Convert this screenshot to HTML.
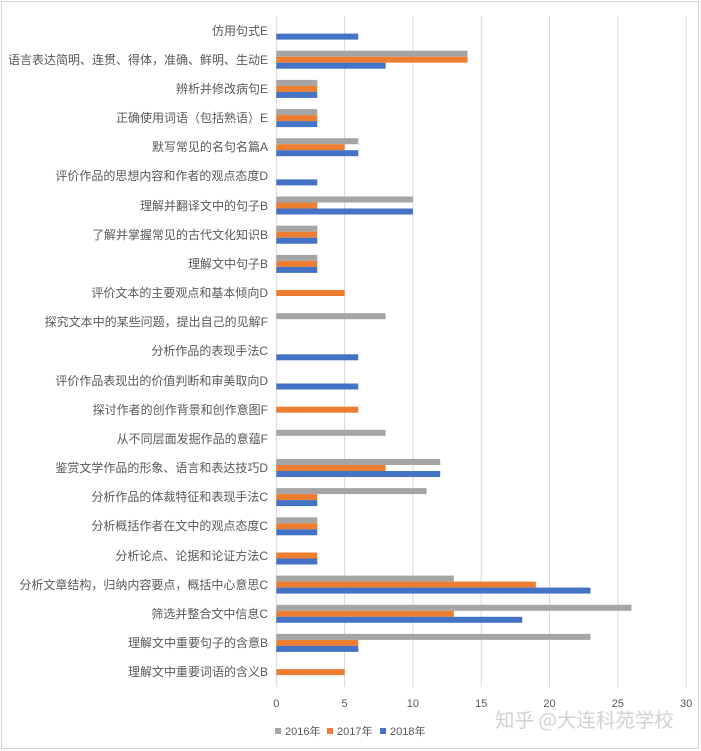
<!DOCTYPE html>
<html>
<head>
<meta charset="utf-8">
<style>
html,body{margin:0;padding:0;background:#fff;}
svg{display:block;}
text{font-family:"Liberation Sans","Noto Sans CJK SC",sans-serif;}
.lbl{font-family:"Liberation Serif","Noto Sans CJK SC","WenQuanYi Zen Hei",sans-serif;font-size:12px;fill:#595959;}
.tick{font-size:11px;fill:#595959;}
.leg{font-family:"Liberation Sans","Noto Sans CJK SC",sans-serif;font-size:11px;fill:#595959;}
</style>
</head>
<body>
<svg width="701" height="751" viewBox="0 0 701 751" xmlns="http://www.w3.org/2000/svg">
<rect x="0" y="0" width="701" height="751" fill="#fff"/>
<rect x="1.5" y="1.5" width="697" height="747" fill="none" stroke="#d4d4d4" stroke-width="1"/>
<g stroke="#d9d9d9" stroke-width="1">
<line x1="276.3" y1="16" x2="276.3" y2="687"/>
<line x1="344.6" y1="16" x2="344.6" y2="687"/>
<line x1="412.9" y1="16" x2="412.9" y2="687"/>
<line x1="481.2" y1="16" x2="481.2" y2="687"/>
<line x1="549.5" y1="16" x2="549.5" y2="687"/>
<line x1="617.8" y1="16" x2="617.8" y2="687"/>
<line x1="686.1" y1="16" x2="686.1" y2="687"/>
</g>
<g class="tick" text-anchor="middle">
<text x="276.3" y="707">0</text>
<text x="344.6" y="707">5</text>
<text x="412.9" y="707">10</text>
<text x="481.2" y="707">15</text>
<text x="549.5" y="707">20</text>
<text x="617.8" y="707">25</text>
<text x="686.1" y="707">30</text>
</g>
<rect x="275" y="728" width="6" height="6" fill="#A5A5A5"/>
<text class="leg" x="285" y="735">2016年</text>
<rect x="327" y="728" width="6" height="6" fill="#ED7D31"/>
<text class="leg" x="337" y="735">2017年</text>
<rect x="380" y="728" width="6" height="6" fill="#4472C4"/>
<text class="leg" x="390" y="735">2018年</text>
<text x="495" y="727" style="font-family:'Noto Sans CJK SC','WenQuanYi Zen Hei',sans-serif;font-size:19.5px;fill:#d2d2d2;">知乎 @大连科苑学校</text>
<g>
<rect x="276.3" y="33.6" width="81.96" height="6" fill="#4472C4"/>
<rect x="276.3" y="50.7" width="191.24" height="6" fill="#A5A5A5"/>
<rect x="276.3" y="56.7" width="191.24" height="6" fill="#ED7D31"/>
<rect x="276.3" y="62.7" width="109.28" height="6" fill="#4472C4"/>
<rect x="276.3" y="79.9" width="40.98" height="6" fill="#A5A5A5"/>
<rect x="276.3" y="85.9" width="40.98" height="6" fill="#ED7D31"/>
<rect x="276.3" y="91.9" width="40.98" height="6" fill="#4472C4"/>
<rect x="276.3" y="109.1" width="40.98" height="6" fill="#A5A5A5"/>
<rect x="276.3" y="115.1" width="40.98" height="6" fill="#ED7D31"/>
<rect x="276.3" y="121.1" width="40.98" height="6" fill="#4472C4"/>
<rect x="276.3" y="138.2" width="81.96" height="6" fill="#A5A5A5"/>
<rect x="276.3" y="144.2" width="68.3" height="6" fill="#ED7D31"/>
<rect x="276.3" y="150.2" width="81.96" height="6" fill="#4472C4"/>
<rect x="276.3" y="179.4" width="40.98" height="6" fill="#4472C4"/>
<rect x="276.3" y="196.5" width="136.6" height="6" fill="#A5A5A5"/>
<rect x="276.3" y="202.5" width="40.98" height="6" fill="#ED7D31"/>
<rect x="276.3" y="208.5" width="136.6" height="6" fill="#4472C4"/>
<rect x="276.3" y="225.7" width="40.98" height="6" fill="#A5A5A5"/>
<rect x="276.3" y="231.7" width="40.98" height="6" fill="#ED7D31"/>
<rect x="276.3" y="237.7" width="40.98" height="6" fill="#4472C4"/>
<rect x="276.3" y="254.9" width="40.98" height="6" fill="#A5A5A5"/>
<rect x="276.3" y="260.9" width="40.98" height="6" fill="#ED7D31"/>
<rect x="276.3" y="266.9" width="40.98" height="6" fill="#4472C4"/>
<rect x="276.3" y="290.0" width="68.3" height="6" fill="#ED7D31"/>
<rect x="276.3" y="313.2" width="109.28" height="6" fill="#A5A5A5"/>
<rect x="276.3" y="354.3" width="81.96" height="6" fill="#4472C4"/>
<rect x="276.3" y="383.5" width="81.96" height="6" fill="#4472C4"/>
<rect x="276.3" y="406.7" width="81.96" height="6" fill="#ED7D31"/>
<rect x="276.3" y="429.8" width="109.28" height="6" fill="#A5A5A5"/>
<rect x="276.3" y="459.0" width="163.92" height="6" fill="#A5A5A5"/>
<rect x="276.3" y="465.0" width="109.28" height="6" fill="#ED7D31"/>
<rect x="276.3" y="471.0" width="163.92" height="6" fill="#4472C4"/>
<rect x="276.3" y="488.1" width="150.26" height="6" fill="#A5A5A5"/>
<rect x="276.3" y="494.1" width="40.98" height="6" fill="#ED7D31"/>
<rect x="276.3" y="500.1" width="40.98" height="6" fill="#4472C4"/>
<rect x="276.3" y="517.3" width="40.98" height="6" fill="#A5A5A5"/>
<rect x="276.3" y="523.3" width="40.98" height="6" fill="#ED7D31"/>
<rect x="276.3" y="529.3" width="40.98" height="6" fill="#4472C4"/>
<rect x="276.3" y="552.5" width="40.98" height="6" fill="#ED7D31"/>
<rect x="276.3" y="558.5" width="40.98" height="6" fill="#4472C4"/>
<rect x="276.3" y="575.6" width="177.58" height="6" fill="#A5A5A5"/>
<rect x="276.3" y="581.6" width="259.54" height="6" fill="#ED7D31"/>
<rect x="276.3" y="587.6" width="314.18" height="6" fill="#4472C4"/>
<rect x="276.3" y="604.8" width="355.16" height="6" fill="#A5A5A5"/>
<rect x="276.3" y="610.8" width="177.58" height="6" fill="#ED7D31"/>
<rect x="276.3" y="616.8" width="245.88" height="6" fill="#4472C4"/>
<rect x="276.3" y="633.9" width="314.18" height="6" fill="#A5A5A5"/>
<rect x="276.3" y="639.9" width="81.96" height="6" fill="#ED7D31"/>
<rect x="276.3" y="645.9" width="81.96" height="6" fill="#4472C4"/>
<rect x="276.3" y="669.1" width="68.3" height="6" fill="#ED7D31"/>
</g>
<g class="lbl" text-anchor="end">
<text x="268" y="35">仿用句式E</text>
<text x="268" y="64">语言表达简明、连贯、得体，准确、鲜明、生动E</text>
<text x="268" y="93">辨析并修改病句E</text>
<text x="268" y="122">正确使用词语（包括熟语）E</text>
<text x="268" y="151">默写常见的名句名篇A</text>
<text x="268" y="180">评价作品的思想内容和作者的观点态度D</text>
<text x="268" y="210">理解并翻译文中的句子B</text>
<text x="268" y="239">了解并掌握常见的古代文化知识B</text>
<text x="268" y="268">理解文中句子B</text>
<text x="268" y="297">评价文本的主要观点和基本倾向D</text>
<text x="268" y="326">探究文本中的某些问题，提出自己的见解F</text>
<text x="268" y="355">分析作品的表现手法C</text>
<text x="268" y="385">评价作品表现出的价值判断和审美取向D</text>
<text x="268" y="414">探讨作者的创作背景和创作意图F</text>
<text x="268" y="443">从不同层面发掘作品的意蕴F</text>
<text x="268" y="472">鉴赏文学作品的形象、语言和表达技巧D</text>
<text x="268" y="501">分析作品的体裁特征和表现手法C</text>
<text x="268" y="530">分析概括作者在文中的观点态度C</text>
<text x="268" y="560">分析论点、论据和论证方法C</text>
<text x="268" y="589">分析文章结构，归纳内容要点，概括中心意思C</text>
<text x="268" y="618">筛选并整合文中信息C</text>
<text x="268" y="647">理解文中重要句子的含意B</text>
<text x="268" y="676">理解文中重要词语的含义B</text>
</g>
</svg>
</body>
</html>
